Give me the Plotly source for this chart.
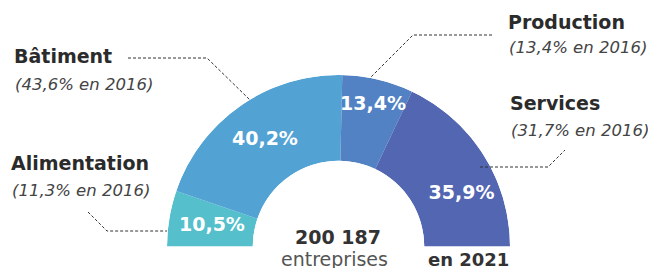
import plotly.graph_objects as go

# ---- data ----
categories = ["Alimentation", "Bâtiment", "Production", "Services"]
share_2021 = [10.5, 40.2, 13.4, 35.9]
share_2016 = [11.3, 43.6, 13.4, 31.7]
total_label = "200 187"
total_unit = "entreprises"
year_label = "en 2021"

# ---- styles / layout ----
colors = ["#55BFCC", "#52A2D4", "#5282C4", "#5366B2"]
label_r = [0.495, 0.51, 0.70, 0.56]
label_shift = [-0.3, 0.3, 0.4, 9.2]
W, H = 648, 268
cx, cy, R = 338.5, 246.5, 171.5
FONT = "DejaVu Sans"
DARK = "#2b2b2b"
GREY = "#444444"


def fmt(v):
    return f"{v:.1f}".replace(".", ",") + "%"


def px(x):
    return x / W


def py(y):
    return 1 - y / H


# angular positions computed from the data (0 at left, clockwise, 180 = full half)
widths = [v * 1.8 for v in share_2021]
starts = []
acc = 0.0
for w in widths:
    starts.append(acc)
    acc += w
mids = [s + w / 2 for s, w in zip(starts, widths)]

fig = go.Figure()
fig.add_trace(go.Barpolar(
    r=[1] * len(categories),
    base=[0] * len(categories),
    theta=mids,
    width=widths,
    marker=dict(color=colors, line=dict(width=0)),
    hoverinfo="skip",
    showlegend=False,
))
fig.add_trace(go.Scatterpolar(
    r=label_r,
    theta=[m + s for m, s in zip(mids, label_shift)],
    mode="text",
    text=[fmt(v) for v in share_2021],
    textfont=dict(family=FONT, size=19, color="white", weight="bold"),
    hoverinfo="skip",
    showlegend=False,
))

fig.update_layout(
    width=W, height=H,
    margin=dict(l=0, r=0, t=0, b=0),
    paper_bgcolor="white",
    plot_bgcolor="white",
    polar=dict(
        domain=dict(x=[px(cx - R), px(cx + R)], y=[py(cy), py(cy - R)]),
        sector=[0, 180],
        hole=0.5,
        bgcolor="white",
        angularaxis=dict(rotation=180, direction="clockwise", showgrid=False,
                         showline=False, showticklabels=False, ticks=""),
        radialaxis=dict(range=[0, 1], showgrid=False, showline=False,
                        showticklabels=False, ticks=""),
    ),
)

# category annotations
name_pos = {
    "Bâtiment": (12, 56, 84),
    "Production": (506, 22, 48),
    "Services": (508, 103, 130),
    "Alimentation": (9, 163, 190),
}
for cat, old in zip(categories, share_2016):
    x, y1, y2 = name_pos[cat]
    fig.add_annotation(x=px(x), y=py(y1), xref="paper", yref="paper",
                       xanchor="left", yanchor="middle", showarrow=False,
                       text=f"<b>{cat}</b>",
                       font=dict(family=FONT, size=19, color=DARK))
    fig.add_annotation(x=px(x + 1), y=py(y2), xref="paper", yref="paper",
                       xanchor="left", yanchor="middle", showarrow=False,
                       text=f"<i>({fmt(old)} en 2016)</i>",
                       font=dict(family=FONT, size=16.5, color=GREY))

fig.add_annotation(x=px(338), y=py(237), xref="paper", yref="paper",
                   xanchor="center", yanchor="middle", showarrow=False,
                   text=f"<b>{total_label}</b>",
                   font=dict(family=FONT, size=19, color="#333333"))
fig.add_annotation(x=px(334), y=py(259), xref="paper", yref="paper",
                   xanchor="center", yanchor="middle", showarrow=False,
                   text=total_unit,
                   font=dict(family=FONT, size=19, color="#555555"))
fig.add_annotation(x=px(468.5), y=py(259), xref="paper", yref="paper",
                   xanchor="center", yanchor="middle", showarrow=False,
                   text=f"<b>{year_label}</b>",
                   font=dict(family=FONT, size=18, color="#333333"))

# dashed leader lines
leaders = [
    [(128, 58), (207, 58), (250, 100)],
    [(492, 35), (413, 35), (370, 78)],
    [(480, 167), (548, 167), (565, 150)],
    [(88, 212), (107, 231), (167, 231)],
]
for pts in leaders:
    path = "M " + " L ".join(f"{px(x)},{py(y)}" for x, y in pts)
    fig.add_shape(type="path", path=path, xref="paper", yref="paper",
                  line=dict(color="#333333", width=1, dash="3px,2px"))

fig.write_html("out.html",
               config={"displayModeBar": False},
               post_script="document.body.style.margin='0';"
                           "document.body.style.overflow='hidden';")
